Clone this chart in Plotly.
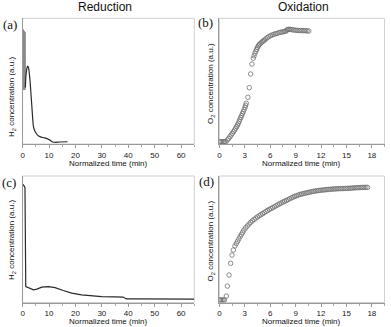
import plotly.graph_objects as go

# (a) reduction, first cycle: H2 concentration
a_band_x = [0.0, 0.08, 0.16, 0.24, 0.32, 0.40, 0.48, 0.56, 0.64, 0.72, 0.80, 0.88, 0.96, 1.04]
a_band_y = [0.91, 0.44, 0.91, 0.43, 0.91, 0.44, 0.90, 0.43, 0.90, 0.44, 0.90, 0.43, 0.89, 0.45]
a_x = [1.04, 1.3, 1.6, 1.8, 2.0, 2.3, 2.6, 2.9, 3.2, 3.5, 3.8, 4.1, 4.5, 5.0, 5.9, 7.0, 8.0, 9.0, 10.0, 10.5, 11.0, 12.0, 14.0, 17.0]
a_y = [0.45, 0.55, 0.60, 0.615, 0.62, 0.60, 0.55, 0.48, 0.39, 0.30, 0.21, 0.14, 0.11, 0.09, 0.065, 0.055, 0.05, 0.045, 0.035, 0.03, 0.02, 0.014, 0.016, 0.018]

# (b) oxidation, first cycle: O2 concentration
b_x = [0.0, 0.15, 0.3, 0.45, 0.6, 0.75, 0.94, 1.1, 1.25, 1.4, 1.53, 1.67, 1.8, 1.92, 2.04, 2.14,
       2.24, 2.34, 2.43, 2.53, 2.63, 2.72, 2.82, 2.92, 3.02, 3.1, 3.18, 3.37, 3.53, 3.69, 3.84,
       4.0, 4.1, 4.2, 4.3, 4.39, 4.49, 4.59, 4.68, 4.78, 4.92, 5.06, 5.2, 5.33, 5.49, 5.65, 5.85,
       6.04, 6.24, 6.43, 6.62, 6.82, 7.02, 7.22, 7.41, 7.61, 7.75, 7.88, 8.0, 8.08, 8.24, 8.39,
       8.58, 8.78, 8.98, 9.18, 9.38, 9.57, 9.77, 9.96, 10.15, 10.35, 10.55]
b_y = [0.018, 0.018, 0.018, 0.018, 0.018, 0.018, 0.032, 0.044, 0.058, 0.072, 0.085, 0.098, 0.111,
       0.125, 0.138, 0.151, 0.165, 0.181, 0.197, 0.211, 0.225, 0.241, 0.257, 0.274, 0.292, 0.308,
       0.324, 0.372, 0.448, 0.557, 0.636, 0.682, 0.702, 0.722, 0.738, 0.753, 0.767, 0.780, 0.788,
       0.796, 0.805, 0.814, 0.821, 0.827, 0.837, 0.846, 0.854, 0.862, 0.867, 0.873, 0.877, 0.881,
       0.885, 0.889, 0.891, 0.894, 0.897, 0.899, 0.908, 0.912, 0.912, 0.912, 0.909, 0.907, 0.905,
       0.904, 0.902, 0.903, 0.902, 0.902, 0.901, 0.900, 0.899]

# (c) reduction, later cycle: H2 concentration
c_x = [0.0, 0.3, 0.6, 0.9, 1.2, 2.26, 3.2, 4.14, 5.4, 7.28, 9.8, 12.3, 15.4, 18.6, 22.3, 26.1,
       29.9, 34.9, 38.0, 38.7, 39.3, 42.4, 48.7, 55.0, 60.0, 65.0]
c_y = [0.93, 0.93, 0.92, 0.91, 0.126, 0.118, 0.108, 0.100, 0.106, 0.121, 0.126, 0.118, 0.095,
       0.074, 0.061, 0.053, 0.047, 0.045, 0.043, 0.035, 0.029, 0.029, 0.027, 0.028, 0.029, 0.027]

# (d) oxidation, later cycle: O2 concentration
d_x = [0.0, 0.15, 0.3, 0.45, 0.6, 0.82, 0.94, 1.14, 1.33, 1.49, 1.65, 1.84, 2.0, 2.15, 2.3, 2.45,
       2.6, 2.75, 2.9, 3.1, 3.3, 3.5, 3.7, 3.9, 4.1, 4.3, 4.5, 4.7, 4.9, 5.1, 5.3, 5.5, 5.7, 5.9,
       6.1, 6.3, 6.5, 6.7, 6.9, 7.1, 7.3, 7.5, 7.7, 7.9, 8.1, 8.3, 8.5, 8.7, 8.9, 9.1, 9.3, 9.5,
       9.7, 9.9, 10.1, 10.3, 10.5, 10.7, 10.9, 11.1, 11.3, 11.5, 11.7, 11.9, 12.1, 12.3, 12.5,
       12.7, 12.9, 13.1, 13.3, 13.5, 13.7, 13.9, 14.1, 14.3, 14.5, 14.7, 14.9, 15.1, 15.3, 15.5,
       15.7, 15.9, 16.1, 16.3, 16.5, 16.7, 16.9, 17.1, 17.3, 17.5]
d_y = [0.02, 0.02, 0.02, 0.02, 0.02, 0.051, 0.13, 0.217, 0.31, 0.375, 0.415, 0.447, 0.466, 0.484,
       0.503, 0.521, 0.538, 0.555, 0.573, 0.59, 0.605, 0.62, 0.634, 0.646, 0.657, 0.667, 0.677,
       0.686, 0.694, 0.702, 0.711, 0.72, 0.728, 0.736, 0.743, 0.75, 0.757, 0.765, 0.772, 0.78,
       0.787, 0.794, 0.8, 0.807, 0.813, 0.82, 0.827, 0.833, 0.839, 0.844, 0.849, 0.854, 0.857,
       0.861, 0.864, 0.867, 0.87, 0.873, 0.876, 0.879, 0.881, 0.883, 0.885, 0.887, 0.888, 0.89,
       0.891, 0.893, 0.894, 0.895, 0.896, 0.897, 0.898, 0.899, 0.9, 0.9, 0.901, 0.901, 0.902,
       0.902, 0.903, 0.903, 0.905, 0.906, 0.907, 0.908, 0.908, 0.909, 0.91, 0.91, 0.91, 0.91]

red_ticks = [0, 10, 20, 30, 40, 50, 60]
ox_ticks = [0, 3, 6, 9, 12, 15, 18]

W, H = 391, 327
SANS = "Liberation Sans, Arial, sans-serif"
SERIF = "Liberation Serif, Times New Roman, serif"

fig = go.Figure()

line_style = dict(color="#2a2a2a", width=1.2)
marker_style = dict(symbol="circle-open", size=4.5, color="#707070", line=dict(width=0.8))

fig.add_trace(go.Scatter(x=a_band_x, y=a_band_y, mode="lines", line=dict(color="#8a8a8a", width=1),
                         xaxis="x", yaxis="y", showlegend=False))
fig.add_trace(go.Scatter(x=a_x, y=a_y, mode="lines", line=line_style, line_shape="spline",
                         xaxis="x", yaxis="y", showlegend=False))
fig.add_trace(go.Scatter(x=b_x, y=b_y, mode="markers", marker=marker_style,
                         xaxis="x2", yaxis="y2", showlegend=False))
fig.add_trace(go.Scatter(x=c_x, y=c_y, mode="lines", line=line_style,
                         xaxis="x3", yaxis="y3", showlegend=False))
fig.add_trace(go.Scatter(x=d_x, y=d_y, mode="markers", marker=marker_style,
                         xaxis="x4", yaxis="y4", showlegend=False))


def px_x(p):
    return p / W


def px_y(p):
    return 1 - p / H


left_dom = [px_x(20.7), px_x(193.3)]
right_dom = [px_x(218.5), px_x(384.5)]
top_dom = [px_y(144), px_y(18.3)]
bot_dom = [px_y(302.5), px_y(176)]


def xaxis(dom, anchor, rng, ticks, minor):
    return dict(domain=dom, anchor=anchor, range=rng, tickvals=ticks, showgrid=False, zeroline=False,
                showline=True, linecolor="#9a9a9a", linewidth=1, ticks="outside", ticklen=3,
                tickcolor="#9a9a9a", tickfont=dict(family=SANS, size=8, color="#222"),
                minor=dict(dtick=minor, tick0=0, ticks="outside", ticklen=2, tickcolor="#aaa"))


def yaxis(dom, anchor):
    return dict(domain=dom, anchor=anchor, range=[0, 1], showgrid=False, zeroline=False,
                showline=True, linecolor="#9a9a9a", linewidth=1, showticklabels=False, ticks="")


fig.update_layout(
    width=W, height=H, margin=dict(l=0, r=0, t=0, b=0),
    paper_bgcolor="white", plot_bgcolor="white",
    xaxis=xaxis(left_dom, "y", [0, 65], red_ticks, 5),
    yaxis=yaxis(top_dom, "x"),
    xaxis2=xaxis(right_dom, "y2", [0, 19.5], ox_ticks, 1.5),
    yaxis2=yaxis(top_dom, "x2"),
    xaxis3=xaxis(left_dom, "y3", [0, 65], red_ticks, 5),
    yaxis3=yaxis(bot_dom, "x3"),
    xaxis4=xaxis(right_dom, "y4", [0, 19.5], ox_ticks, 1.5),
    yaxis4=yaxis(bot_dom, "x4"),
)

# light frame around each panel
for xd, yd in [(left_dom, top_dom), (right_dom, top_dom), (left_dom, bot_dom), (right_dom, bot_dom)]:
    fig.add_shape(type="rect", xref="paper", yref="paper", x0=xd[0], x1=xd[1], y0=yd[0], y1=yd[1],
                  line=dict(color="#cfcfcf", width=1), layer="below")


def note(text, x, y, size=8, family=SANS, angle=0):
    fig.add_annotation(text=text, x=px_x(x), y=px_y(y), xref="paper", yref="paper",
                       showarrow=False, textangle=angle, xanchor="center", yanchor="middle",
                       font=dict(family=family, size=size, color="#111"))


note("Reduction", 104, 7, size=12)
note("Oxidation", 303, 7, size=12)
note("(a)", 8, 24, size=13, family=SERIF)
note("(b)", 205, 23, size=13, family=SERIF)
note("(c)", 7, 182, size=13, family=SERIF)
note("(d)", 206, 181, size=13, family=SERIF)
note("Normalized time (min)", 107, 164)
note("Normalized time (min)", 301, 164)
note("Normalized time (min)", 107, 321.5)
note("Normalized time (min)", 301, 321.5)
note("H<sub>2</sub> concentration (a.u.)", 10, 97, angle=-90)
note("O<sub>2</sub> concentration (a.u.)", 210, 83, angle=-90)
note("H<sub>2</sub> concentration (a.u.)", 10, 240, angle=-90)
note("O<sub>2</sub> concentration (a.u.)", 210.5, 241, angle=-90)

# the page's default body margin would push the figure off the window
fig.write_html("out.html", config={"displayModeBar": False},
               post_script="document.body.style.margin='0';document.body.style.overflow='hidden';")
